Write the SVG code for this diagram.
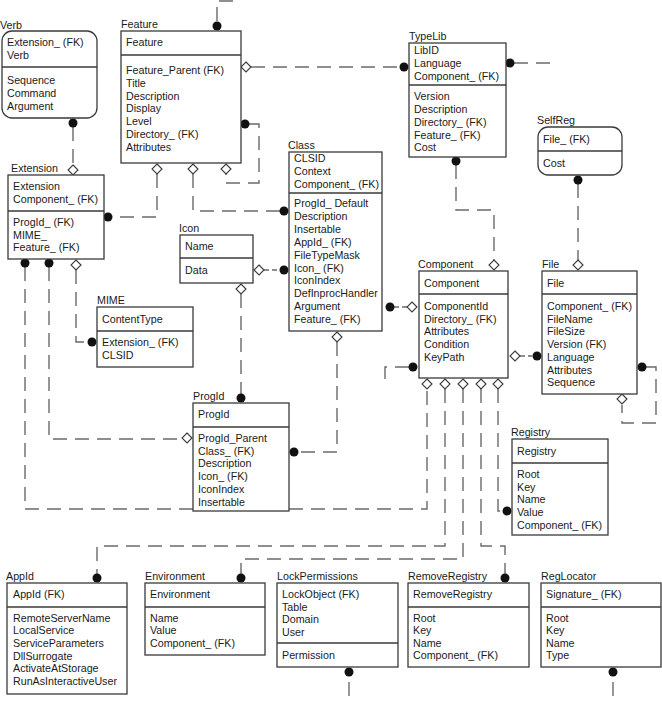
<svg xmlns="http://www.w3.org/2000/svg" xmlns:xlink="http://www.w3.org/1999/xlink" width="662" height="701" viewBox="0 0 662 701">
<style>
.box{fill:#fff;stroke:#3a3a3a;stroke-width:1.3}
.dv{stroke:#3a3a3a;stroke-width:1.3}
text{font-family:"Liberation Sans",Arial,sans-serif;font-size:10.7px;fill:#1a1a1a}
.c{fill:none;stroke:#6a6a6a;stroke-width:1.4;stroke-dasharray:14 8}
.dot{fill:#111}
.dm{fill:#fff;stroke:#3a3a3a;stroke-width:1.1}
</style>
<defs>
<path id="d" class="dm" d="M0,-5 L5,0 L0,5 L-5,0Z"/>
<circle id="o" class="dot" r="4.5"/>
</defs>
<g id="connectors">
<path class="c" d="M217,21 V1 H240"/>
<path class="c" d="M251,67 H400"/>
<path class="c" d="M249,124 H259 V183 H226 V174"/>
<path class="c" d="M157,174 V217 H112"/>
<path class="c" d="M193,174 V211 H280"/>
<path class="c" d="M73,127 V165"/>
<path class="c" d="M25,267 V509 H427 V389"/>
<path class="c" d="M49,267 V439 H182"/>
<path class="c" d="M76,270 V342 H88"/>
<path class="c" d="M264,270 H280" style="stroke-dasharray:5 3"/>
<path class="c" d="M241,294 V394"/>
<path class="c" d="M337,342 V452 H298"/>
<path class="c" d="M394,307 H407" style="stroke-dasharray:5 3"/>
<path class="c" d="M456,165 V210 H494 V260"/>
<path class="c" d="M514,63 H553"/>
<path class="c" d="M578,184 V260"/>
<path class="c" d="M520,356 H532" style="stroke-dasharray:5 3"/>
<path class="c" d="M646,367 H656 V423 H622 V405"/>
<path class="c" d="M409,367 H385 V383"/>
<path class="c" d="M445,389 V546 H97 V574"/>
<path class="c" d="M463,389 V559 H241 V574"/>
<path class="c" d="M481,389 V546 H505 V574"/>
<path class="c" d="M498,389 V511 H502"/>
<path class="c" d="M349,682 V701"/>
<path class="c" d="M613,682 V701"/>
<use href="#o" x="217" y="26"/>
<use href="#d" x="246" y="67"/>
<use href="#o" x="404" y="67"/>
<use href="#o" x="245" y="124"/>
<use href="#d" x="226" y="169"/>
<use href="#d" x="157" y="169"/>
<use href="#d" x="193" y="169"/>
<use href="#o" x="108" y="217"/>
<use href="#o" x="284" y="211"/>
<use href="#o" x="73" y="123"/>
<use href="#d" x="73" y="170"/>
<use href="#o" x="25" y="263"/>
<use href="#o" x="49" y="263"/>
<use href="#d" x="76" y="265"/>
<use href="#o" x="92" y="342"/>
<use href="#d" x="187" y="438"/>
<use href="#d" x="259" y="270"/>
<use href="#o" x="284" y="270"/>
<use href="#d" x="241" y="289"/>
<use href="#o" x="241" y="398"/>
<use href="#d" x="337" y="337"/>
<use href="#o" x="294" y="452"/>
<use href="#o" x="390" y="307"/>
<use href="#d" x="412" y="307"/>
<use href="#o" x="456" y="161"/>
<use href="#d" x="494" y="265"/>
<use href="#o" x="510" y="63"/>
<use href="#o" x="578" y="180"/>
<use href="#d" x="578" y="265"/>
<use href="#d" x="515" y="356"/>
<use href="#o" x="537" y="356"/>
<use href="#o" x="642" y="367"/>
<use href="#d" x="622" y="399"/>
<use href="#o" x="413" y="367"/>
<use href="#d" x="427" y="384"/>
<use href="#d" x="445" y="384"/>
<use href="#d" x="463" y="384"/>
<use href="#d" x="481" y="384"/>
<use href="#d" x="498" y="384"/>
<use href="#o" x="507" y="511"/>
<use href="#o" x="97" y="578"/>
<use href="#o" x="241" y="578"/>
<use href="#o" x="505" y="578"/>
<use href="#o" x="349" y="672"/>
<use href="#o" x="613" y="672"/>
</g>
<g id="Verb">
<text x="0" y="29">Verb</text>
<rect class="box" x="2" y="31" width="95" height="87" rx="10"/>
<line class="dv" x1="2" y1="67" x2="97" y2="67"/>
<text x="7" y="46">Extension_ (FK)</text><text x="7" y="59">Verb</text>
<text x="7" y="84">Sequence</text><text x="7" y="97">Command</text><text x="7" y="110">Argument</text>
</g>
<g id="Feature">
<text x="121" y="28">Feature</text>
<rect class="box" x="121" y="31" width="120" height="132"/>
<line class="dv" x1="121" y1="55" x2="241" y2="55"/>
<text x="126" y="46">Feature</text>
<text x="126" y="74">Feature_Parent (FK)</text><text x="126" y="87">Title</text><text x="126" y="100">Description</text><text x="126" y="112">Display</text><text x="126" y="125">Level</text><text x="126" y="138">Directory_ (FK)</text><text x="126" y="151">Attributes</text>
</g>
<g id="TypeLib">
<text x="409" y="40">TypeLib</text>
<rect class="box" x="409" y="43" width="97" height="114"/>
<line class="dv" x1="409" y1="85" x2="506" y2="85"/>
<text x="414" y="54">LibID</text><text x="414" y="67">Language</text><text x="414" y="80">Component_ (FK)</text>
<text x="414" y="100">Version</text><text x="414" y="113">Description</text><text x="414" y="126">Directory_ (FK)</text><text x="414" y="139">Feature_ (FK)</text><text x="414" y="151">Cost</text>
</g>
<g id="SelfReg">
<text x="537" y="124">SelfReg</text>
<rect class="box" x="538" y="127" width="84" height="48" rx="10"/>
<line class="dv" x1="538" y1="151" x2="622" y2="151"/>
<text x="543" y="143">File_ (FK)</text><text x="543" y="167">Cost</text>
</g>
<g id="Extension">
<text x="11" y="172">Extension</text>
<rect class="box" x="8" y="175" width="96" height="84"/>
<line class="dv" x1="8" y1="211" x2="104" y2="211"/>
<text x="13" y="190">Extension</text><text x="13" y="203">Component_ (FK)</text>
<text x="13" y="226">ProgId_ (FK)</text><text x="13" y="239">MIME_</text><text x="13" y="251">Feature_ (FK)</text>
</g>
<g id="Class">
<text x="288" y="149">Class</text>
<rect class="box" x="289" y="152" width="93" height="179"/>
<line class="dv" x1="289" y1="193" x2="382" y2="193"/>
<text x="294" y="162">CLSID</text><text x="294" y="175">Context</text><text x="294" y="188">Component_ (FK)</text>
<text x="294" y="207">ProgId_ Default</text><text x="294" y="220">Description</text><text x="294" y="233">Insertable</text><text x="294" y="246">AppId_ (FK)</text><text x="294" y="259">FileTypeMask</text><text x="294" y="272">Icon_ (FK)</text><text x="294" y="284">IconIndex</text><text x="294" y="297">DefInprocHandler</text><text x="294" y="310">Argument</text><text x="294" y="323">Feature_ (FK)</text>
</g>
<g id="Icon">
<text x="179" y="232">Icon</text>
<rect class="box" x="180" y="235" width="73" height="48"/>
<line class="dv" x1="180" y1="258" x2="253" y2="258"/>
<text x="185" y="250">Name</text><text x="185" y="274">Data</text>
</g>
<g id="MIME">
<text x="97" y="304">MIME</text>
<rect class="box" x="97" y="307" width="96" height="60"/>
<line class="dv" x1="97" y1="331" x2="193" y2="331"/>
<text x="102" y="323">ContentType</text>
<text x="102" y="346">Extension_ (FK)</text><text x="102" y="359">CLSID</text>
</g>
<g id="ProgId">
<text x="193" y="400">ProgId</text>
<rect class="box" x="193" y="403" width="96" height="108"/>
<line class="dv" x1="193" y1="427" x2="289" y2="427"/>
<text x="198" y="418">ProgId</text>
<text x="198" y="442">ProgId_Parent</text><text x="198" y="455">Class_ (FK)</text><text x="198" y="467">Description</text><text x="198" y="480">Icon_ (FK)</text><text x="198" y="493">IconIndex</text><text x="198" y="506">Insertable</text>
</g>
<g id="Component">
<text x="418" y="268">Component</text>
<rect class="box" x="419" y="271" width="89" height="107"/>
<line class="dv" x1="419" y1="294" x2="508" y2="294"/>
<text x="424" y="287">Component</text>
<text x="424" y="310">ComponentId</text><text x="424" y="323">Directory_ (FK)</text><text x="424" y="335">Attributes</text><text x="424" y="348">Condition</text><text x="424" y="361">KeyPath</text>
</g>
<g id="File">
<text x="542" y="268">File</text>
<rect class="box" x="542" y="271" width="95" height="123"/>
<line class="dv" x1="542" y1="294" x2="637" y2="294"/>
<text x="547" y="287">File</text>
<text x="547" y="310">Component_ (FK)</text><text x="547" y="323">FileName</text><text x="547" y="335">FileSize</text><text x="547" y="348">Version (FK)</text><text x="547" y="361">Language</text><text x="547" y="374">Attributes</text><text x="547" y="386">Sequence</text>
</g>
<g id="Registry">
<text x="511" y="436">Registry</text>
<rect class="box" x="512" y="439" width="96" height="96"/>
<line class="dv" x1="512" y1="463" x2="608" y2="463"/>
<text x="517" y="455">Registry</text>
<text x="517" y="478">Root</text><text x="517" y="491">Key</text><text x="517" y="503">Name</text><text x="517" y="516">Value</text><text x="517" y="529">Component_ (FK)</text>
</g>
<g id="AppId">
<text x="6" y="580">AppId</text>
<rect class="box" x="7" y="583" width="120" height="111"/>
<line class="dv" x1="7" y1="607" x2="127" y2="607"/>
<text x="13" y="598">AppId (FK)</text>
<text x="13" y="622">RemoteServerName</text><text x="13" y="634">LocalService</text><text x="13" y="647">ServiceParameters</text><text x="13" y="660">DllSurrogate</text><text x="13" y="672">ActivateAtStorage</text><text x="13" y="685">RunAsInteractiveUser</text>
</g>
<g id="Environment">
<text x="145" y="580">Environment</text>
<rect class="box" x="145" y="583" width="120" height="72"/>
<line class="dv" x1="145" y1="607" x2="265" y2="607"/>
<text x="150" y="598">Environment</text>
<text x="150" y="622">Name</text><text x="150" y="634">Value</text><text x="150" y="647">Component_ (FK)</text>
</g>
<g id="LockPermissions">
<text x="277" y="580">LockPermissions</text>
<rect class="box" x="277" y="583" width="121" height="84"/>
<line class="dv" x1="277" y1="643" x2="398" y2="643"/>
<text x="282" y="598">LockObject (FK)</text><text x="282" y="611">Table</text><text x="282" y="623">Domain</text><text x="282" y="636">User</text>
<text x="282" y="659">Permission</text>
</g>
<g id="RemoveRegistry">
<text x="408" y="580">RemoveRegistry</text>
<rect class="box" x="408" y="583" width="121" height="84"/>
<line class="dv" x1="408" y1="607" x2="529" y2="607"/>
<text x="413" y="598">RemoveRegistry</text>
<text x="413" y="622">Root</text><text x="413" y="634">Key</text><text x="413" y="647">Name</text><text x="413" y="659">Component_ (FK)</text>
</g>
<g id="RegLocator">
<text x="541" y="580">RegLocator</text>
<rect class="box" x="541" y="583" width="120" height="84"/>
<line class="dv" x1="541" y1="607" x2="661" y2="607"/>
<text x="546" y="598">Signature_ (FK)</text>
<text x="546" y="622">Root</text><text x="546" y="634">Key</text><text x="546" y="647">Name</text><text x="546" y="659">Type</text>
</g>
</svg>
